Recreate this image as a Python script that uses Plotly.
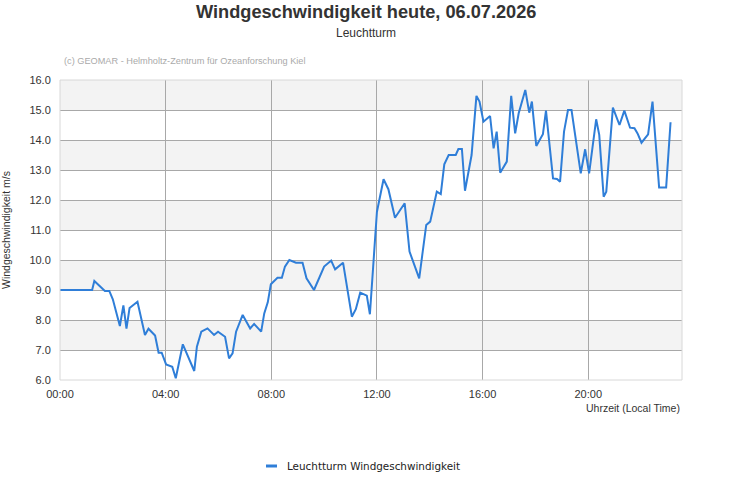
import plotly.graph_objects as go

# time of day and wind speed (m/s)
clock = ["00:00", "01:13", "01:18", "01:42", "01:52", "02:00", "02:16", "02:24", "02:31", "02:38",
         "02:56", "03:13", "03:21", "03:36", "03:44", "03:51", "04:01", "04:15", "04:23", "04:39",
         "05:05", "05:11", "05:21", "05:35", "05:50", "05:59", "06:15", "06:24", "06:32", "06:40",
         "06:55", "07:12", "07:21", "07:37", "07:44", "07:52", "07:59", "08:14", "08:24", "08:31",
         "08:41", "08:56", "09:11", "09:20", "09:37", "10:00", "10:16", "10:25", "10:43", "11:03",
         "11:12", "11:22", "11:37", "11:44", "12:00", "12:15", "12:26", "12:41", "13:03", "13:14",
         "13:36", "13:46", "13:52", "14:01", "14:16", "14:25", "14:33", "14:43", "14:59", "15:05",
         "15:13", "15:20", "15:35", "15:46", "15:53", "16:02", "16:17", "16:25", "16:32", "16:40",
         "16:55", "17:05", "17:14", "17:22", "17:37", "17:46", "17:52", "18:02", "18:17", "18:24",
         "18:40", "18:49", "18:56", "19:05", "19:14", "19:22", "19:31", "19:43", "19:53", "20:02",
         "20:18", "20:25", "20:35", "20:41", "20:56", "21:11", "21:22", "21:35", "21:45", "21:52",
         "22:01", "22:16", "22:26", "22:41", "22:57", "23:07"]
speed = [9.0, 9.0, 9.3, 8.97, 8.97, 8.69, 7.8, 8.49, 7.71, 8.4,
         8.61, 7.5, 7.71, 7.48, 6.91, 6.91, 6.52, 6.44, 6.06, 7.19,
         6.3, 7.11, 7.61, 7.72, 7.5, 7.61, 7.44, 6.72, 6.89, 7.61,
         8.17, 7.72, 7.87, 7.61, 8.22, 8.59, 9.19, 9.41, 9.41, 9.78,
         10.0, 9.91, 9.91, 9.39, 9.0, 9.78, 9.98, 9.69, 9.91, 8.11,
         8.36, 8.91, 8.81, 8.19, 11.61, 12.69, 12.36, 11.41, 11.89, 10.28,
         9.39, 10.61, 11.17, 11.28, 12.28, 12.2, 13.19, 13.5, 13.5, 13.7,
         13.7, 12.31, 13.5, 15.47, 15.28, 14.61, 14.8, 13.72, 14.28, 12.91,
         13.28, 15.47, 14.22, 14.89, 15.67, 14.91, 15.28, 13.8, 14.19, 14.98,
         12.72, 12.7, 12.61, 14.28, 15.0, 15.0, 14.08, 12.89, 13.69, 12.89,
         14.69, 14.17, 12.11, 12.28, 15.08, 14.5, 14.98, 14.41, 14.39, 14.22,
         13.91, 14.19, 15.28, 12.42, 12.42, 14.59]
date = "2026-07-06"
times = [date + " " + c for c in clock]

y_ticks = [6.0, 7.0, 8.0, 9.0, 10.0, 11.0, 12.0, 13.0, 14.0, 15.0, 16.0]
series_name = "Leuchtturm Windgeschwindigkeit"

font = "Liberation Sans, Arial, sans-serif"
W, H, L, R, T, B = 731, 500, 60, 49, 80, 120
pw, ph = W - L - R, H - T - B


def px_x(x):
    return (x - L) / pw


def px_y(y):
    return (H - B - y) / ph


fig = go.Figure()
fig.add_trace(go.Scatter(x=times, y=speed, mode="lines", name=series_name, showlegend=False,
                         line=dict(color="#2f7ed8", width=2)))

shapes = []
for i in range(len(y_ticks) - 1):
    if i % 2 == 1:
        shapes.append(dict(type="rect", xref="paper", yref="y", x0=0, x1=1,
                           y0=y_ticks[i], y1=y_ticks[i + 1], fillcolor="#f3f3f3",
                           line=dict(width=0), layer="below"))
shapes.append(dict(type="rect", xref="paper", yref="paper", x0=0, x1=1, y0=0, y1=1,
                   line=dict(color="#d8d8d8", width=1), layer="above"))
# legend symbol
shapes.append(dict(type="line", xref="paper", yref="paper", x0=px_x(266), x1=px_x(277),
                   y0=px_y(466), y1=px_y(466), line=dict(color="#2f7ed8", width=3)))

fig.update_layout(
    width=W, height=H,
    margin=dict(l=L, r=R, t=T, b=B),
    paper_bgcolor="white", plot_bgcolor="white",
    shapes=shapes,
    showlegend=False,
    xaxis=dict(type="date", range=[date + " 00:00", date + " 23:33"], automargin=False,
               tickformat="%H:%M", dtick=4 * 3600 * 1000, tick0=date + " 00:00",
               showgrid=True, gridcolor="#a8a8a8", gridwidth=1, zeroline=False,
               ticks="outside", ticklen=4, tickcolor="rgba(0,0,0,0)",
               tickfont=dict(family=font, size=11, color="#333"), showline=False),
    yaxis=dict(range=[6, 16], tickvals=y_ticks, ticktext=["%.1f" % v for v in y_ticks],
               automargin=False,
               showgrid=True, gridcolor="#a8a8a8", gridwidth=1, zeroline=False,
               ticks="outside", ticklen=6, tickcolor="rgba(0,0,0,0)",
               tickfont=dict(family=font, size=11, color="#333")),
    annotations=[
        dict(text="<b>Windgeschwindigkeit heute, 06.07.2026</b>", x=px_x(365.5), xref="paper",
             y=px_y(11.5), yref="paper", yanchor="middle", showarrow=False,
             font=dict(family=font, size=18.2, color="#333")),
        dict(text="Leuchtturm", x=px_x(365.5), xref="paper", y=px_y(33), yref="paper",
             yanchor="middle", showarrow=False, font=dict(family=font, size=12, color="#333")),
        dict(text="(c) GEOMAR - Helmholtz-Zentrum für Ozeanforschung Kiel", x=px_x(62),
             xref="paper", y=px_y(61), yref="paper", yanchor="middle", xanchor="left",
             showarrow=False, font=dict(family=font, size=9.2, color="#aaa")),
        dict(text="Windgeschwindigkeit m/s", x=px_x(6), xref="paper", y=px_y(230),
             yref="paper", xanchor="center", yanchor="middle", textangle=-90,
             showarrow=False, font=dict(family=font, size=10.5, color="#333")),
        dict(text="Uhrzeit (Local Time)", x=1, xref="paper", y=px_y(408), yref="paper",
             xanchor="right", yanchor="middle", showarrow=False,
             font=dict(family=font, size=10.5, color="#333")),
        dict(text=series_name, x=px_x(285), xref="paper", y=px_y(466), yref="paper",
             xanchor="left", yanchor="middle", showarrow=False,
             font=dict(family="DejaVu Sans", size=10.4, color="#222")),
    ],
)

fig.write_html("out.html")
